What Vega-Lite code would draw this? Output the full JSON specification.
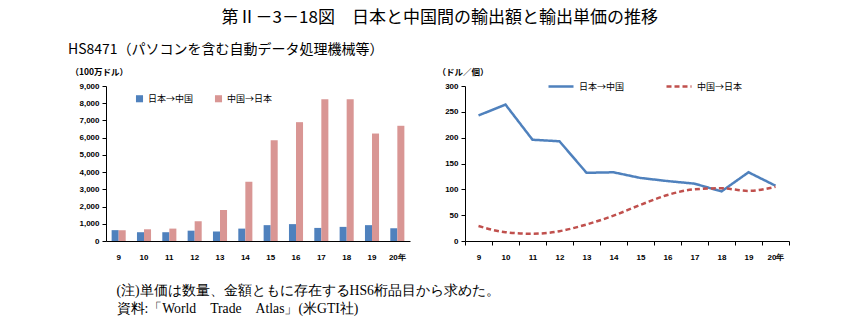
{
  "$schema": "https://vega.github.io/schema/vega-lite/v6.json",
  "padding": {"left": 68, "top": 9, "right": 5, "bottom": 5},
  "background": "white",
  "title": {
    "text": "第Ⅱ－3－18図　日本と中国間の輸出額と輸出単価の推移",
    "font": "Noto Sans CJK JP",
    "fontSize": 17,
    "fontWeight": "normal",
    "color": "#000",
    "anchor": "middle",
    "dx": 11,
    "offset": 16
  },
  "bounds": "flush",
  "spacing": 55,
  "config": {
    "view": {"stroke": null},
    "axis": {
      "grid": false,
      "labelFont": "Liberation Sans",
      "labelFontWeight": "bold",
      "labelFontSize": 8,
      "labelColor": "#000",
      "domainColor": "#000",
      "tickColor": "#000",
      "tickSize": 4
    },
    "legend": {
      "labelFont": "Noto Sans CJK JP",
      "labelFontSize": 9,
      "labelColor": "#000",
      "title": null
    }
  },
  "datasets": {
    "bars": [
      {"year": "9", "dir": "日本→中国", "value": 630},
      {"year": "9", "dir": "中国→日本", "value": 630},
      {"year": "10", "dir": "日本→中国", "value": 510},
      {"year": "10", "dir": "中国→日本", "value": 680},
      {"year": "11", "dir": "日本→中国", "value": 510},
      {"year": "11", "dir": "中国→日本", "value": 720},
      {"year": "12", "dir": "日本→中国", "value": 600},
      {"year": "12", "dir": "中国→日本", "value": 1150},
      {"year": "13", "dir": "日本→中国", "value": 550},
      {"year": "13", "dir": "中国→日本", "value": 1800},
      {"year": "14", "dir": "日本→中国", "value": 720},
      {"year": "14", "dir": "中国→日本", "value": 3440},
      {"year": "15", "dir": "日本→中国", "value": 920},
      {"year": "15", "dir": "中国→日本", "value": 5850},
      {"year": "16", "dir": "日本→中国", "value": 980},
      {"year": "16", "dir": "中国→日本", "value": 6900},
      {"year": "17", "dir": "日本→中国", "value": 760},
      {"year": "17", "dir": "中国→日本", "value": 8230},
      {"year": "18", "dir": "日本→中国", "value": 820},
      {"year": "18", "dir": "中国→日本", "value": 8230},
      {"year": "19", "dir": "日本→中国", "value": 920},
      {"year": "19", "dir": "中国→日本", "value": 6240},
      {"year": "20年", "dir": "日本→中国", "value": 740},
      {"year": "20年", "dir": "中国→日本", "value": 6690}
    ],
    "lines": [
      {"year": "9", "dir": "日本→中国", "value": 243},
      {"year": "10", "dir": "日本→中国", "value": 264},
      {"year": "11", "dir": "日本→中国", "value": 196},
      {"year": "12", "dir": "日本→中国", "value": 193},
      {"year": "13", "dir": "日本→中国", "value": 132},
      {"year": "14", "dir": "日本→中国", "value": 133},
      {"year": "15", "dir": "日本→中国", "value": 122},
      {"year": "16", "dir": "日本→中国", "value": 116},
      {"year": "17", "dir": "日本→中国", "value": 111},
      {"year": "18", "dir": "日本→中国", "value": 96},
      {"year": "19", "dir": "日本→中国", "value": 133},
      {"year": "20年", "dir": "日本→中国", "value": 107},
      {"year": "9", "dir": "中国→日本", "value": 29},
      {"year": "10", "dir": "中国→日本", "value": 17},
      {"year": "11", "dir": "中国→日本", "value": 14},
      {"year": "12", "dir": "中国→日本", "value": 19},
      {"year": "13", "dir": "中国→日本", "value": 32},
      {"year": "14", "dir": "中国→日本", "value": 49},
      {"year": "15", "dir": "中国→日本", "value": 70},
      {"year": "16", "dir": "中国→日本", "value": 89},
      {"year": "17", "dir": "中国→日本", "value": 100},
      {"year": "18", "dir": "中国→日本", "value": 102},
      {"year": "19", "dir": "中国→日本", "value": 97},
      {"year": "20年", "dir": "中国→日本", "value": 105}
    ]
  },
  "resolve": {
    "scale": {"x": "independent", "y": "independent", "color": "independent", "strokeDash": "independent"},
    "legend": {"color": "independent", "strokeDash": "independent"}
  },
  "hconcat": [
    {
      "width": 304,
      "height": 155,
      "title": {
        "text": "HS8471（パソコンを含む自動データ処理機械等）",
        "font": "Noto Sans CJK JP",
        "fontSize": 14,
        "fontWeight": "normal",
        "color": "#000",
        "anchor": "start",
        "frame": "group",
        "dx": -38,
        "offset": 10
      },
      "data": {"name": "bars"},
      "mark": {"type": "bar"},
      "encoding": {
        "x": {
          "field": "year",
          "type": "nominal",
          "sort": ["9", "10", "11", "12", "13", "14", "15", "16", "17", "18", "19", "20年"],
          "scale": {"paddingInner": 0, "paddingOuter": 0},
          "axis": {
            "labelAngle": 0,
            "ticks": false,
            "labelPadding": 12,
            "title": ["(注)単価は数量、金額ともに存在するHS6桁品目から求めた。", "資料:「World　Trade　Atlas」(米GTI社)"],
            "titleFont": "Liberation Serif",
            "titleFontSize": 13.7,
            "titleFontWeight": "normal",
            "titleColor": "#000",
            "titleAnchor": "start",
            "titleAlign": "left",
            "titleBaseline": "top",
            "titleLineHeight": 18,
            "titleX": 10,
            "titleY": 42
          }
        },
        "xOffset": {
          "field": "dir",
          "type": "nominal",
          "sort": ["日本→中国", "中国→日本"],
          "scale": {"paddingInner": 0, "paddingOuter": 0.8}
        },
        "y": {
          "field": "value",
          "type": "quantitative",
          "scale": {"domain": [0, 9000], "nice": false},
          "axis": {
            "values": [0, 1000, 2000, 3000, 4000, 5000, 6000, 7000, 8000, 9000],
            "format": ",d",
            "labelPadding": 3,
            "title": "（100万ドル）",
            "titleFont": "Noto Sans CJK JP",
            "titleFontSize": 8.5,
            "titleFontWeight": "bold",
            "titleColor": "#000",
            "titleAngle": 0,
            "titleAlign": "left",
            "titleBaseline": "middle",
            "titleX": -36,
            "titleY": -15
          }
        },
        "color": {
          "field": "dir",
          "type": "nominal",
          "scale": {"domain": ["日本→中国", "中国→日本"], "range": ["#4F81BD", "#D99694"]},
          "legend": {
            "orient": "none",
            "direction": "horizontal",
            "legendX": 29,
            "legendY": 8,
            "symbolType": "square",
            "symbolSize": 50,
            "columnPadding": 20
          }
        }
      }
    },
    {
      "width": 324,
      "height": 155,
      "data": {"name": "lines"},
      "encoding": {
        "x": {
          "field": "year",
          "type": "nominal",
          "sort": ["9", "10", "11", "12", "13", "14", "15", "16", "17", "18", "19", "20年"],
          "bandPosition": 0.5,
          "scale": {"type": "band", "paddingInner": 0, "paddingOuter": 0},
          "axis": {"labelAngle": 0, "tickBand": "extent", "labelPadding": 8, "title": null}
        },
        "y": {
          "field": "value",
          "type": "quantitative",
          "scale": {"domain": [0, 300], "nice": false},
          "axis": {
            "values": [0, 50, 100, 150, 200, 250, 300],
            "labelPadding": 3,
            "title": "（ドル／個）",
            "titleFont": "Noto Sans CJK JP",
            "titleFontSize": 8.5,
            "titleFontWeight": "bold",
            "titleColor": "#000",
            "titleAngle": 0,
            "titleAlign": "left",
            "titleBaseline": "middle",
            "titleX": -28,
            "titleY": -15
          }
        },
        "color": {
          "field": "dir",
          "type": "nominal",
          "scale": {"domain": ["日本→中国", "中国→日本"], "range": ["#4F81BD", "#C0504D"]},
          "legend": {
            "orient": "none",
            "direction": "horizontal",
            "legendX": 82,
            "legendY": -13.5,
            "symbolType": "stroke",
            "symbolSize": 625,
            "symbolStrokeWidth": 2.5,
            "columnPadding": 36
          }
        },
        "strokeDash": {
          "field": "dir",
          "type": "nominal",
          "scale": {"domain": ["日本→中国", "中国→日本"], "range": [[1, 0], [5, 3]]},
          "legend": null
        }
      },
      "layer": [
        {
          "transform": [{"filter": "datum.dir === '日本→中国'"}],
          "mark": {"type": "line", "strokeWidth": 2.5, "interpolate": "linear"}
        },
        {
          "transform": [{"filter": "datum.dir === '中国→日本'"}],
          "mark": {"type": "line", "strokeWidth": 2.5, "interpolate": "monotone"}
        }
      ]
    }
  ]
}
